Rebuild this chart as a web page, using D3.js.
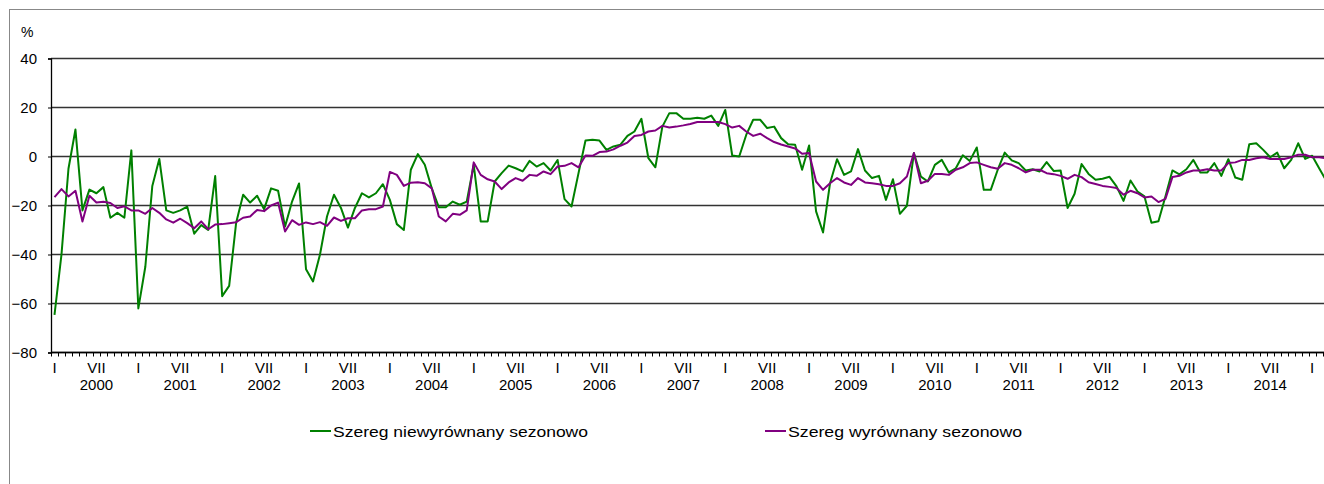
<!DOCTYPE html>
<html>
<head>
<meta charset="utf-8">
<script src="https://cdn.jsdelivr.net/npm/d3@7/dist/d3.min.js"></script>
<style>
  body { margin: 0; background: #fff; }
  svg { display: block; font-family: Arial, "Liberation Sans", sans-serif; }
</style>
</head>
<body>
<svg width="1324" height="484"></svg>
<script>
// tick labels
var years = [2000, 2001, 2002, 2003, 2004, 2005, 2006, 2007, 2008, 2009, 2010, 2011, 2012, 2013, 2014];
var monthLabels = ['I', '', '', '', '', '', 'VII', '', '', '', '', ''];
var yTicks = [-80, -60, -40, -20, 0, 20, 40];
var seriesNames = ['Szereg niewyrównany sezonowo', 'Szereg wyrównany sezonowo'];

// monthly values, I 2000 - III 2015
var unadjusted = [
  -64.6, -40, -5, 11, -22, -13.5, -15, -12.5, -25, -23, -25, 2.5,
  -62, -45, -12, -1, -22, -23, -22, -20.5, -31.5, -28, -30, -8,
  -57, -52.8, -27, -15.6, -18.8, -16, -21.5, -13, -14, -28.6, -18.4, -11,
  -46, -51, -40, -24.5, -15.6, -21, -29, -21, -15, -16.7, -15, -11.3,
  -17.7, -27.6, -30, -5.4, 1, -3.4, -13, -20.7, -20.7, -18.4, -19.7, -18.4,
  -3.4, -26.5, -26.5, -10.2, -6.8, -3.7, -4.8, -6.1, -1.8, -4.1, -2.7, -5.7,
  -1.4, -17.4, -20.4, -6.8, 6.5, 6.8, 6.5, 2.7, 4.1, 4.8, 8.4, 10.2,
  15.4, -0.7, -4.4, 12.2, 17.7, 17.7, 15.4, 15.4, 15.8, 15.4, 16.7, 12.5,
  19, 0.4, 0, 8.8, 15, 15, 11.6, 12.2, 7.5, 5, 4.8, -5.4,
  4.5, -22.4, -31, -10.9, -1.1, -7.5, -6.1, 3, -5.7, -8.8, -7.9, -17.7,
  -9.3, -23.4, -20.1, 1.4, -8.2, -10.2, -3.4, -1.4, -6.5, -4.8, 0.5, -1.8,
  3.7, -13.6, -13.6, -5.4, 1.6, -1.6, -2.7, -5.7, -5.2, -6.1, -2.3, -5.9,
  -5.7, -21, -15.2, -3.1, -7.1, -9.5, -9.1, -8.3, -12.2, -18.1, -9.8, -14.3,
  -16.3, -27, -26.4, -16.3, -5.7, -7.3, -5.2, -1.4, -6.5, -6.5, -2.7, -7.9,
  -1.1, -8.6, -9.5, 5, 5.4, 2.7, -0.3, 1.6, -4.8, -1.4, 5.4, -1,
  0.3, -4.8, -9.8
];
var adjusted = [
  -16.6, -13.3, -16.3, -14, -26.5, -16, -18.8, -18.5, -19, -21, -20.3, -22,
  -22, -23.4, -21, -23, -25.7, -27, -25.4, -27.2, -29.3, -26.5, -29.7, -27.8,
  -27.6, -27.2, -26.8, -25, -24.5, -21.8, -22.3, -20, -18.8, -30.6, -26, -27.9,
  -26.9, -27.6, -26.8, -28.3, -24.9, -26.3, -25.2, -25.2, -22, -21.5, -21.5, -20.4,
  -6.3, -7.5, -12, -10.7, -10.5, -10.9, -13, -24.5, -26.5, -23.4, -23.8, -22,
  -2.4, -7.5, -9.3, -10.2, -13.3, -10.6, -8.8, -9.9, -7.5, -7.9, -6.1, -7.2,
  -4.1, -3.8, -2.7, -4.4, 0.4, 0.3, 1.8, 2, 2.9, 4.4, 5.7, 8.4,
  8.8, 10.2, 10.6, 12.5, 11.8, 12.2, 12.7, 13.3, 14.1, 14.1, 14.1, 14.1,
  13.2, 11.8, 12.5, 10.2, 8.4, 9.3, 7.5, 5.9, 4.9, 4.1, 3.3, 1.1,
  1.4, -10.2, -13.6, -10.9, -8.8, -10.6, -11.6, -8.8, -10.6, -10.9, -11.3, -12,
  -12, -10.9, -8.2, 1.4, -10.9, -9.9, -7.1, -7.1, -7.5, -5.4, -4.4, -2.7,
  -2.4, -3.4, -4.4, -5, -2.7, -3.4, -4.8, -6.5, -5.4, -5.4, -6.8, -7.2,
  -7.9, -9.1, -7.5, -8.4, -10.5, -11.2, -12, -12.4, -12.9, -15.6, -14, -15,
  -16.7, -16.3, -18.6, -17.3, -8.4, -7.9, -6.5, -5.7, -5.7, -5.2, -5.7, -5.7,
  -2.7, -2.4, -1.4, -1.4, -0.7, -0.3, -1, -1, -1, -0.3, 0.7, 0.7,
  -0.3, -0.3, -0.7
];

var colors = ['#008000', '#800080'];

var svg = d3.select('svg'),
  plotLeft = 51,
  plotRight = 1330,
  step = 6.987,
  plotTop = 58.5,
  plotBottom = 352.5,
  idx = d3.range(unadjusted.length);

// outer frame (cut off on the right and bottom like the source)
svg.append('rect')
  .attr('x', 9.5).attr('y', 9.5)
  .attr('width', 1400).attr('height', 500)
  .attr('fill', 'none')
  .attr('stroke', '#888')
  .attr('stroke-width', 1);

var x = d3.scaleBand()
  .domain(idx)
  .range([plotLeft, plotLeft + step * idx.length])
  .padding(0);

var y = d3.scaleLinear()
  .domain([-80, 40])
  .range([plotBottom, plotTop]);

function cx(i) { return x(i) + x.bandwidth() / 2; }

// grid lines
svg.append('g')
  .selectAll('line')
  .data(yTicks)
  .enter().append('line')
  .attr('x1', plotLeft).attr('x2', plotRight)
  .attr('y1', function(d) { return y(d); })
  .attr('y2', function(d) { return y(d); })
  .attr('stroke', '#333')
  .attr('stroke-width', 1.3);

// Y axis
var yAxis = svg.append('g')
  .attr('transform', 'translate(' + plotLeft + ',0)')
  .call(d3.axisLeft(y).tickValues(yTicks).tickSize(3).tickPadding(11));
yAxis.select('.domain').attr('stroke', '#000').attr('stroke-width', 1.3);
yAxis.selectAll('.tick line').attr('stroke', '#000');
yAxis.selectAll('.tick text')
  .attr('fill', '#000')
  .style('font-size', '15px')
  .style('font-family', 'Arial, "Liberation Sans", sans-serif');

svg.append('text')
  .attr('x', 21).attr('y', 37)
  .style('font-size', '14px')
  .text('%');

// X axis: month labels
var xAxis = svg.append('g')
  .attr('transform', 'translate(0,' + plotBottom + ')')
  .call(d3.axisBottom(x)
    .tickSize(0)
    .tickPadding(10)
    .tickFormat(function(i) { return monthLabels[i % 12]; }));
xAxis.select('.domain').remove();
xAxis.selectAll('.tick text')
  .attr('fill', '#000')
  .style('font-size', '15px')
  .style('font-family', 'Arial, "Liberation Sans", sans-serif');

// axis line and month tick marks between categories
svg.append('line')
  .attr('x1', plotLeft).attr('x2', plotRight)
  .attr('y1', plotBottom).attr('y2', plotBottom)
  .attr('stroke', '#000').attr('stroke-width', 1.3);
svg.append('g')
  .selectAll('line')
  .data(idx)
  .enter().append('line')
  .attr('x1', function(i) { return Math.round(x(i)) + 0.5; })
  .attr('x2', function(i) { return Math.round(x(i)) + 0.5; })
  .attr('y1', plotBottom)
  .attr('y2', plotBottom + 4)
  .attr('stroke', '#000');

// year labels under July
svg.append('g')
  .selectAll('text')
  .data(years)
  .enter().append('text')
  .attr('x', function(d) { return cx((d - 2000) * 12 + 6); })
  .attr('y', 390)
  .attr('text-anchor', 'middle')
  .style('font-size', '15px')
  .text(function(d) { return d; });

// lines
var line = d3.line()
  .x(function(d, i) { return cx(i); })
  .y(function(d) { return y(d); });

[unadjusted, adjusted].forEach(function(s, k) {
  svg.append('path')
    .datum(s)
    .attr('fill', 'none')
    .attr('stroke', colors[k])
    .attr('stroke-width', 2)
    .attr('stroke-linejoin', 'round')
    .attr('d', line);
});

// legend
var legendX = [310, 765],
  legendW = [255, 234];
seriesNames.forEach(function(name, k) {
  var g = svg.append('g').attr('transform', 'translate(' + legendX[k] + ',431)');
  g.append('line')
    .attr('x1', 0).attr('x2', 21)
    .attr('stroke', colors[k])
    .attr('stroke-width', 2);
  g.append('text')
    .attr('x', 23).attr('y', 5.5)
    .attr('textLength', legendW[k])
    .attr('lengthAdjust', 'spacingAndGlyphs')
    .style('font-size', '15px')
    .text(name);
});
</script>
</body>
</html>
